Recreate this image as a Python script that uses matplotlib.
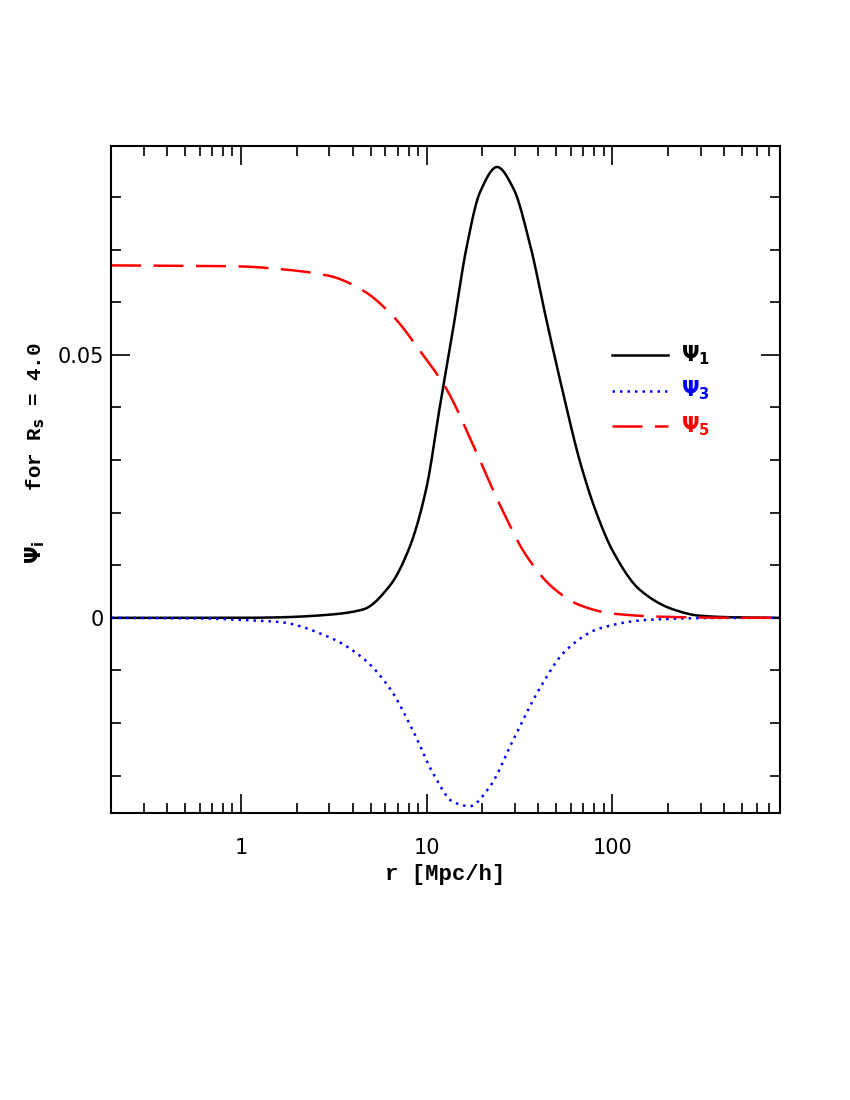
import numpy as np
import matplotlib
matplotlib.use("Agg")
import matplotlib.pyplot as plt
from matplotlib.ticker import FixedLocator, LogLocator, NullFormatter, FixedFormatter

r1 = [0.2, 1.0, 1.62, 3.0, 4.56, 6.34, 8.1, 10, 11.8, 13.9, 16.4, 19.4, 24.0, 29.3, 36.0, 44.3, 54.4, 67, 82.3, 101, 141, 213, 296, 450, 800]
psi1 = [0, 0, 0.0001, 0.0006, 0.0016, 0.0061, 0.0134, 0.0248, 0.0402, 0.0549, 0.0703, 0.0809, 0.0857, 0.0817, 0.0711, 0.0565, 0.0427, 0.0297, 0.0199, 0.0126, 0.0053, 0.0016, 0.0004, 0.0001, 0]

r5 = [0.2, 0.6, 1.0, 1.62, 3.0, 4.56, 6.62, 9.2, 12.8, 17.8, 24.8, 34.5, 48.0, 67, 101, 188, 400, 800]
psi5 = [0.0670, 0.0669, 0.0668, 0.0663, 0.0650, 0.0622, 0.0573, 0.0508, 0.0435, 0.0329, 0.0215, 0.0118, 0.0057, 0.0024, 0.0008, 0.0002, 0.00002, 0]

r3 = [0.2, 0.6, 1.0, 1.62, 3.0, 4.56, 6.34, 8.47, 10.9, 13.9, 17.1, 21.9, 29.3, 40.7, 56.6, 85.7, 153, 350, 800]
psi3 = [0, -0.0001, -0.0004, -0.0008, -0.0037, -0.0077, -0.0134, -0.0215, -0.0297, -0.035, -0.0358, -0.0321, -0.0232, -0.0134, -0.0061, -0.002, -0.0004, -0.00003, 0]

def pchip(x, y, xs):
    x = np.asarray(x); y = np.asarray(y)
    h = np.diff(x); d = np.diff(y) / h
    m = np.zeros_like(y)
    for k in range(1, len(y) - 1):
        if d[k-1] * d[k] > 0:
            w1 = 2*h[k] + h[k-1]; w2 = h[k] + 2*h[k-1]
            m[k] = (w1 + w2) / (w1/d[k-1] + w2/d[k])
    m[0] = d[0]; m[-1] = d[-1]
    idx = np.clip(np.searchsorted(x, xs) - 1, 0, len(h) - 1)
    t = (xs - x[idx]) / h[idx]
    h00 = 2*t**3 - 3*t**2 + 1; h10 = t**3 - 2*t**2 + t
    h01 = -2*t**3 + 3*t**2; h11 = t**3 - t**2
    return h00*y[idx] + h10*h[idx]*m[idx] + h01*y[idx+1] + h11*h[idx]*m[idx+1]

def smooth(x, y):
    lx = np.log10(x)
    xs = np.linspace(lx[0], lx[-1], 800)
    return 10**xs, pchip(lx, np.array(y, float), xs)

fig = plt.figure(figsize=(8.5, 11), dpi=100)
ax = fig.add_axes([0.1306, 0.2609, 0.787, 0.6064])

x, y = smooth(r1, psi1)
ax.plot(x, y, color="black", lw=1.8)
x, y = smooth(r3, psi3)
ax.plot(x, y, color="blue", lw=1.8, linestyle=(0, (1, 2)))
x, y = smooth(r5, psi5)
ax.plot(x, y, color="red", lw=1.8, linestyle=(0, (12, 5)))

ax.set_xscale("log")
ax.set_xlim(0.2, 800)
ax.set_ylim(-0.0371, 0.0897)
ax.xaxis.set_major_locator(FixedLocator([1, 10, 100]))
ax.xaxis.set_major_formatter(FixedFormatter(["1", "10", "100"]))
ax.xaxis.set_minor_locator(LogLocator(base=10, subs=np.arange(2, 10)))
ax.xaxis.set_minor_formatter(NullFormatter())
ax.yaxis.set_major_locator(FixedLocator([0, 0.05]))
ax.yaxis.set_major_formatter(FixedFormatter(["0", "0.05"]))
ax.yaxis.set_minor_locator(FixedLocator([-0.03, -0.02, -0.01, 0.01, 0.02, 0.03, 0.04, 0.06, 0.07, 0.08]))
ax.tick_params(which="both", direction="in", top=True, right=True, width=1.2, labelsize=15)
ax.tick_params(which="major", length=14)
ax.tick_params(which="minor", length=7)
ax.tick_params(axis="x", which="major", pad=18)
ax.tick_params(axis="y", which="major", pad=5)
for s in ax.spines.values():
    s.set_linewidth(1.5)

ax.set_xlabel("r [Mpc/h]", fontsize=16, family="Liberation Mono", fontweight="bold", labelpad=4)
ax.set_ylabel(r"$\mathbf{\Psi_i}$    for R$_\mathbf{s}$ = 4.0", fontsize=15, family="Liberation Mono",
              fontweight="bold")
ax.yaxis.set_label_coords(-0.095, 0.54)

legx = [10**(1 + (612-427)/185), 10**(1 + (668-427)/185)]
for i, (col, ls, lab) in enumerate([("black", "-", r"$\mathbf{\Psi_1}$"),
                                    ("blue", (0, (1, 2)), r"$\mathbf{\Psi_3}$"),
                                    ("red", (0, (12, 5)), r"$\mathbf{\Psi_5}$")]):
    yy = 0.05 - i * 0.0068
    ax.plot(legx, [yy, yy], color=col, linestyle=ls, lw=1.8)
    ax.text(10**(1 + (680-427)/185), yy, lab, color=col, fontsize=15, va="center", ha="left")

fig.savefig("out.png", dpi=100)
